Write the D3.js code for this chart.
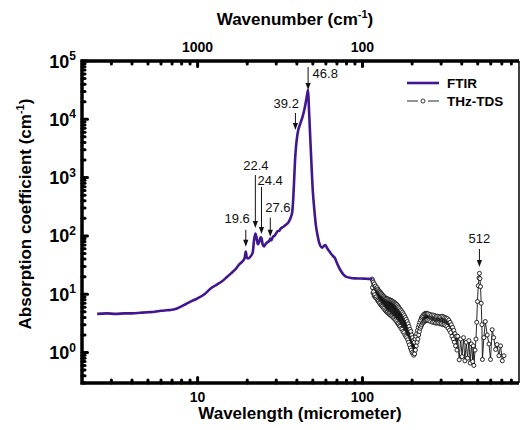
<!DOCTYPE html>
<meta charset="utf-8">
<script src="https://d3js.org/d3.v7.min.js"></script>
<style>
  body { margin: 0; background: #fff; }
  svg { font-family: "Liberation Sans", Arial, sans-serif; }
  .ticklab { font-weight: bold; font-size: 14px; fill: #000; }
  .ylab { font-weight: bold; font-size: 18px; fill: #000; }
  .axtitle { font-weight: bold; font-size: 17px; fill: #000; }
  .legend text { font-weight: bold; font-size: 13.5px; fill: #000; }
  .note { font-size: 13px; fill: #111; }
</style>
<body>
<script>
// FTIR spectrum: [wavelength (um), absorption (cm-1)]
var ftirPoints = [
  [2.46,4.6],[2.8,4.7],[3.2,4.6],[3.6,4.7],[4.0,4.7],[4.5,4.8],[5.0,4.9],[5.5,5.0],
  [6.0,5.2],[6.5,5.3],[7.0,5.4],[7.5,5.7],[8.0,6.2],[8.5,6.8],[9.0,7.4],[10.0,8.5],
  [11.0,10.0],[12.0,12.5],[13.0,14.5],[14.0,16.5],[15.0,19.5],[16.0,23],[17.0,27],
  [18.0,33],[18.8,37],[19.3,42],[19.6,54],[19.9,42],[20.3,41],[21.0,45],[21.6,52],
  [22.0,85],[22.4,110],[22.8,92],[23.2,72],[23.7,80],[24.1,95],[24.4,92],[24.8,72],
  [25.3,66],[25.8,72],[26.5,78],[27.2,82],[27.6,90],[28.0,84],[28.6,96],[29.2,100],
  [29.8,108],[30.5,120],[31.2,122],[32.0,135],[33.0,142],[34.3,155],[35.5,170],
  [36.8,210],[37.5,260],[38.0,420],[38.5,900],[39.0,2000],[39.5,3300],[40.4,5700],
  [42.0,8500],[43.3,11000],[44.5,15000],[45.5,21000],[46.2,27000],[46.8,32000],
  [47.4,14400],[48.2,5000],[48.6,3000],[49.0,1800],[50.0,580],[51.0,290],[52.2,150],
  [53.5,100],[54.7,75],[57.0,63],[58.5,68],[59.6,70],[61.0,62],[62.8,55],[64.3,50],
  [65.5,47],[66.8,44],[68.0,42],[69.5,36],[71.5,30],[74.0,25],[77.0,21.5],[80.0,19.8],
  [85.0,19.0],[90.0,18.7],[96.0,18.6],[102,18.5],[108,18.3],[114.5,18.2]
];

// THz-TDS spectrum: [wavelength (um), absorption (cm-1)]
var thzPoints = [
  [114.5,18.2],[115.0,13.0],[115.4,17.0],[115.8,10.5],[116.3,16.0],[116.8,11.0],[117.2,14.5],
  [117.7,9.4],[118.2,15.0],[118.7,9.8],[119.2,13.5],[119.7,8.8],[120.3,13.8],[120.9,9.0],
  [121.5,12.6],[122.1,8.3],[122.7,13.0],[123.3,7.9],[124.0,12.2],[124.7,7.6],[125.4,11.6],
  [126.1,7.2],[126.8,11.2],[127.5,7.0],[128.2,10.8],[128.9,6.6],[129.6,10.4],[130.3,6.4],
  [131.0,10.0],[131.8,6.2],[132.6,9.6],[133.4,5.9],[134.2,9.3],[135.0,5.7],[135.8,9.0],
  [136.6,5.4],[137.4,8.7],[138.2,5.2],[139.0,8.5],[139.8,5.0],[140.7,8.4],[141.6,4.9],
  [142.5,8.3],[143.4,4.7],[144.3,8.1],[145.2,4.6],[146.1,8.0],[147.0,4.4],[148.0,7.9],
  [149.0,4.3],[150.0,7.8],[151.0,4.2],[152.0,7.6],[153.0,4.0],[154.0,7.4],[155.0,3.9],
  [156.0,7.2],[157.0,3.7],[158.0,7.0],[159.0,3.6],[160.0,6.8],[161.0,3.4],[162.0,6.6],
  [163.0,3.2],[164.0,6.3],[165.0,3.1],[166.0,6.0],[167.0,2.9],[168.0,5.7],[169.0,2.8],
  [170.0,5.4],[171.2,2.6],[172.4,5.2],[173.6,2.5],[174.8,4.9],[176.0,2.3],[177.2,4.6],
  [178.4,2.2],[179.6,4.3],[180.8,2.0],[182.0,4.0],[183.2,1.9],[184.4,3.7],[185.6,1.8],
  [186.8,3.4],[188.0,1.65],[189.2,3.1],[190.4,1.5],[191.6,2.8],[192.8,1.35],[194.0,2.5],
  [195.2,1.2],[196.4,2.3],[197.6,1.1],[198.8,2.0],[200.0,1.0],[201.2,1.8],[202.4,0.95],
  [203.6,1.6],[204.8,0.9],[206.0,1.5],[207.2,0.95],[208.4,1.7],[209.6,1.1],[210.8,1.9],
  [212.0,1.3],[213.2,2.1],[214.4,1.5],[215.6,2.4],[216.8,1.7],[218.0,2.7],[219.2,2.0],
  [220.4,3.0],[221.6,2.3],[222.8,3.3],[224.0,2.6],[225.2,3.6],[226.4,2.8],[227.6,3.9],
  [228.8,3.0],[230.0,4.1],[231.4,3.2],[232.8,4.3],[234.2,3.3],[235.6,4.5],[237.0,3.4],
  [238.4,4.6],[239.8,3.5],[241.2,4.7],[242.6,3.5],[244.0,4.7],[245.5,3.6],[247.0,4.7],
  [248.5,3.6],[250.0,4.6],[253.0,3.5],[256.0,4.5],[259.0,3.4],[262.0,4.4],[265.0,3.3],
  [268.0,4.4],[271.0,3.3],[274.0,4.3],[277.0,3.2],[280.0,4.2],[283.0,3.2],[286.0,4.2],
  [289.0,3.2],[292.0,4.1],[295.0,3.1],[298.0,4.1],[301.0,3.1],[304.0,4.2],[307.0,3.0],
  [310.0,4.1],[313.0,3.0],[316.0,4.0],[319.0,2.9],[322.0,3.9],[325.0,2.8],[328.0,3.8],
  [331.0,2.6],[334.0,3.6],[337.0,2.4],[340.0,3.3],[343.0,2.2],[346.0,3.0],[349.0,1.9],
  [352.0,2.7],[355.0,1.7],[358.0,2.4],[361.0,1.5],[364.0,2.1],[367.0,1.3],[370.0,1.9],
  [374.0,1.1],[378.0,1.9],[386.0,0.75],[394.0,1.7],[402.0,0.85],[410.0,1.8],[418.0,0.72],
  [426.0,1.5],[434.0,0.8],[442.0,1.6],[450.0,0.66],[458.0,1.4],[466.0,0.7],[470.0,1.3],
  [474.0,0.6],[482.0,1.1],[488.0,1.7],[493.0,3.3],[498.0,7.5],[504.0,14],[509.0,19],
  [512.0,22.8],[516.0,18.5],[520.0,13.5],[525.0,7.0],[530.0,3.0],[534.0,0.76],[545.0,1.8],
  [556.0,3.4],[571.0,2.0],[585.0,1.4],[598.0,0.76],[612.0,2.46],[625.0,1.8],[642.0,1.13],
  [655.0,1.37],[672.0,0.88],[688.0,1.3],[705.0,0.72],[722.0,0.88]
];

// labelled peaks: wavelength, label, absorption at arrow tip
var peakWl = [19.6, 22.4, 24.4, 27.6, 39.2, 46.8, 512];
var peakText = ["19.6", "22.4", "24.4", "27.6", "39.2", "46.8", "512"];
var peakTip = [65, 137, 108, 97, 6550, 31800, 29.3];

// tick values / labels
var xMajor = [10, 100];
var xMajorLabels = ["10", "100"];
var topLabels = ["1000", "100"];
var yMajor = [1, 10, 100, 1000, 10000, 100000];
var yExp = ["0", "1", "2", "3", "4", "5"];

var margin = {top: 61, right: 2, bottom: 47, left: 82};
var width = 521 - margin.left - margin.right,
    height = 430 - margin.top - margin.bottom;

var svg = d3.select("body").append("svg")
    .attr("width", 521)
    .attr("height", 430);

var g = svg.append("g")
    .attr("transform", "translate(" + margin.left + "," + margin.top + ")");

var x = d3.scaleLog().domain([1.99, 890]).range([0, width]);
var y = d3.scaleLog().domain([0.3, 1e5]).range([height, 0]);

// minor ticks
var xMinor = [], yMinor = [];
[1, 10, 100].forEach(function(d) {
  for (var k = 2; k <= 9; k++) if (d * k > 2 && d * k < 890 && d * k != 10 && d * k != 100) xMinor.push(d * k);
});
[0.1, 1, 10, 100, 1000, 10000].forEach(function(d) {
  for (var k = 2; k <= 9; k++) if (d * k >= 0.3) yMinor.push(d * k);
});

// lines
var line = d3.line()
  .x(function(d) { return x(d[0]); })
  .y(function(d) { return y(d[1]); });

g.append("path")
  .datum(thzPoints)
  .attr("d", line)
  .attr("fill", "none")
  .attr("stroke", "#111")
  .attr("stroke-width", 0.9);

g.selectAll(".thz")
  .data(thzPoints).enter().append("circle")
  .attr("class", "thz")
  .attr("cx", function(d) { return x(d[0]); })
  .attr("cy", function(d) { return y(d[1]); })
  .attr("r", 2)
  .attr("fill", "#fff")
  .attr("stroke", "#111")
  .attr("stroke-width", 0.9);

g.append("path")
  .datum(ftirPoints)
  .attr("d", line.curve(d3.curveMonotoneX))
  .attr("fill", "none")
  .attr("stroke", "#40178f")
  .attr("stroke-width", 2.6)
  .attr("stroke-linejoin", "round");

// axes frame
function drawTicks(vals, len, orient) {
  vals.forEach(function(v) {
    var l = g.append("line").attr("stroke", "#000").attr("stroke-width", 3).attr("stroke-linecap", "round");
    if (orient == "bottom") l.attr("x1", x(v)).attr("x2", x(v)).attr("y1", height).attr("y2", height - len);
    if (orient == "top") l.attr("x1", x(v)).attr("x2", x(v)).attr("y1", 0).attr("y2", len);
    if (orient == "left") l.attr("x1", 0).attr("x2", len).attr("y1", y(v)).attr("y2", y(v));
  });
}
drawTicks(xMinor, 3, "bottom");
drawTicks(xMajor, 5.5, "bottom");
drawTicks(xMinor, 3, "top");
drawTicks(xMajor, 5.5, "top");
drawTicks(yMinor, 3, "left");
drawTicks(yMajor, 5.5, "left");

g.append("line").attr("x1", width).attr("x2", width).attr("y1", 0).attr("y2", height)
  .attr("stroke", "#000").attr("stroke-width", 1.5);
g.append("path")
  .attr("d", "M" + width + ",0H0V" + height + "H" + width)
  .attr("fill", "none").attr("stroke", "#000").attr("stroke-width", 3.5);

// tick labels
g.selectAll(".xl").data(xMajor).enter().append("text")
  .attr("class", "ticklab")
  .attr("x", function(d) { return x(d); })
  .attr("y", height + 19)
  .attr("text-anchor", "middle")
  .text(function(d, i) { return xMajorLabels[i]; });

g.selectAll(".tl").data(xMajor).enter().append("text")
  .attr("class", "ticklab")
  .attr("x", function(d) { return x(d); })
  .attr("y", -9)
  .attr("text-anchor", "middle")
  .text(function(d, i) { return topLabels[i]; });

var yl = g.selectAll(".yl").data(yMajor).enter().append("text")
  .attr("class", "ylab")
  .attr("x", -6)
  .attr("y", function(d) { return y(d) + 6.5; })
  .attr("text-anchor", "end");
yl.append("tspan").text("10");
yl.append("tspan").attr("dy", -7.5).style("font-size", "12px").text(function(d, i) { return yExp[i]; });

// axis titles
var tt = svg.append("text").attr("class", "axtitle").attr("x", 295).attr("y", 25).attr("text-anchor", "middle");
tt.append("tspan").text("Wavenumber (cm");
tt.append("tspan").attr("dy", -7).style("font-size", "11px").text("-1");
tt.append("tspan").attr("dy", 7).text(")");

svg.append("text").attr("class", "axtitle").attr("x", 300).attr("y", 419)
  .attr("text-anchor", "middle").text("Wavelength (micrometer)");

var yt = svg.append("text").attr("class", "axtitle")
  .attr("transform", "translate(31,214) rotate(-90)").attr("text-anchor", "middle");
yt.append("tspan").text("Absorption coefficient (cm");
yt.append("tspan").attr("dy", -7).style("font-size", "11px").text("-1");
yt.append("tspan").attr("dy", 7).text(")");

// peak annotations: arrow length, label anchor, dx, dy (relative to arrow top)
var noteLayout = [
  {len: 17, anchor: "end", dx: 4, dy: -7},
  {len: 53, anchor: "middle", dx: 0.5, dy: -5},
  {len: 47, anchor: "start", dx: -4, dy: -2},
  {len: 19, anchor: "start", dx: -5, dy: -6},
  {len: 17, anchor: "end", dx: 3.5, dy: -5.5},
  {len: 23, anchor: "start", dx: 4.5, dy: 11},
  {len: 18, anchor: "middle", dx: 0, dy: -6}
];
peakWl.forEach(function(w, i) {
  var px = x(w), tip = y(peakTip[i]), top = tip - noteLayout[i].len;
  g.append("line").attr("x1", px).attr("x2", px).attr("y1", top).attr("y2", tip - 5)
    .attr("stroke", "#111").attr("stroke-width", 1);
  g.append("path")
    .attr("d", "M" + (px - 2.6) + "," + (tip - 7) + "L" + (px + 2.6) + "," + (tip - 7) + "L" + px + "," + tip + "Z")
    .attr("fill", "#111");
  g.append("text").attr("class", "note")
    .attr("x", px + noteLayout[i].dx)
    .attr("y", top + noteLayout[i].dy)
    .attr("text-anchor", noteLayout[i].anchor)
    .text(peakText[i]);
});

// legend
var lg = svg.append("g").attr("class", "legend");
lg.append("line").attr("x1", 407).attr("x2", 439).attr("y1", 83).attr("y2", 83)
  .attr("stroke", "#40178f").attr("stroke-width", 2.6);
lg.append("text").attr("x", 447).attr("y", 88).text("FTIR");
lg.append("line").attr("x1", 407).attr("x2", 418).attr("y1", 101).attr("y2", 101)
  .attr("stroke", "#111").attr("stroke-width", 0.9);
lg.append("line").attr("x1", 428).attr("x2", 439).attr("y1", 101).attr("y2", 101)
  .attr("stroke", "#111").attr("stroke-width", 0.9);
lg.append("circle").attr("cx", 423).attr("cy", 101).attr("r", 2)
  .attr("fill", "#fff").attr("stroke", "#222").attr("stroke-width", 0.9);
lg.append("text").attr("x", 447).attr("y", 106).text("THz-TDS");
</script>
</body>
